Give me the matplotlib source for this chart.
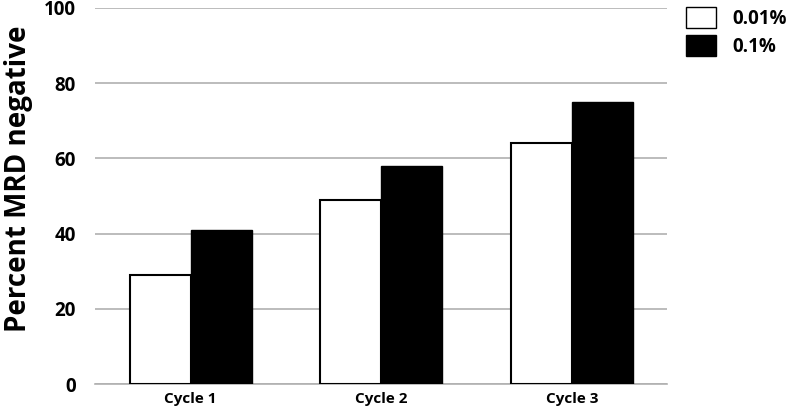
import matplotlib
matplotlib.use("Agg")
import matplotlib.pyplot as plt
import numpy as np
from matplotlib.patches import Patch

categories = ["Cycle 1", "Cycle 2", "Cycle 3"]
series_names = ["0.01%", "0.1%"]
vals_001 = [29, 49, 64]
vals_01 = [41, 58, 75]
yticks = [0, 20, 40, 60, 80, 100]

plt.rcParams['font.family'] = ['Open Sans', 'DejaVu Sans']
fig = plt.figure(figsize=(8, 4.19), dpi=100)
ax = fig.add_axes([0.119, 0.0835, 0.715, 0.8975])

x = np.arange(len(categories))
w = 0.32
ax.bar(x - w/2, vals_001, w, color="white", edgecolor="black", linewidth=1.5, zorder=3)
ax.bar(x + w/2, vals_01, w, color="black", edgecolor="black", linewidth=1.0, zorder=3)

ax.set_xlim(-0.5, 2.5)
ax.set_ylim(0, 100)
ax.set_yticks(yticks)
ax.set_yticklabels([str(t) for t in yticks], fontsize=13.5, fontweight="bold")
ax.set_xticks(x)
ax.set_xticklabels(categories, fontsize=11, fontweight="bold")
ax.tick_params(axis="y", length=0, pad=14)
ax.tick_params(axis="x", length=0, pad=6)
ax.grid(axis="y", color="#b0b0b0", linewidth=1.2, zorder=0)
for s in ["top", "right", "left"]:
    ax.spines[s].set_visible(False)
ax.spines["bottom"].set_color("#b0b0b0")
ax.spines["bottom"].set_linewidth(1.2)
ax.set_ylabel("Percent MRD negative", fontsize=20, fontweight="bold")
ax.yaxis.set_label_coords(-0.108, 0.545)

handles = [Patch(facecolor="white", edgecolor="black", linewidth=1.0),
           Patch(facecolor="black", edgecolor="black")]
fig.legend(handles, series_names, loc="upper left", bbox_to_anchor=(0.837, 1.024),
           frameon=False, prop={"size": 13.5, "weight": "bold"},
           handlelength=1.55, handleheight=1.35, handletextpad=0.9, labelspacing=0.35)

fig.savefig("out.png", dpi=100)
